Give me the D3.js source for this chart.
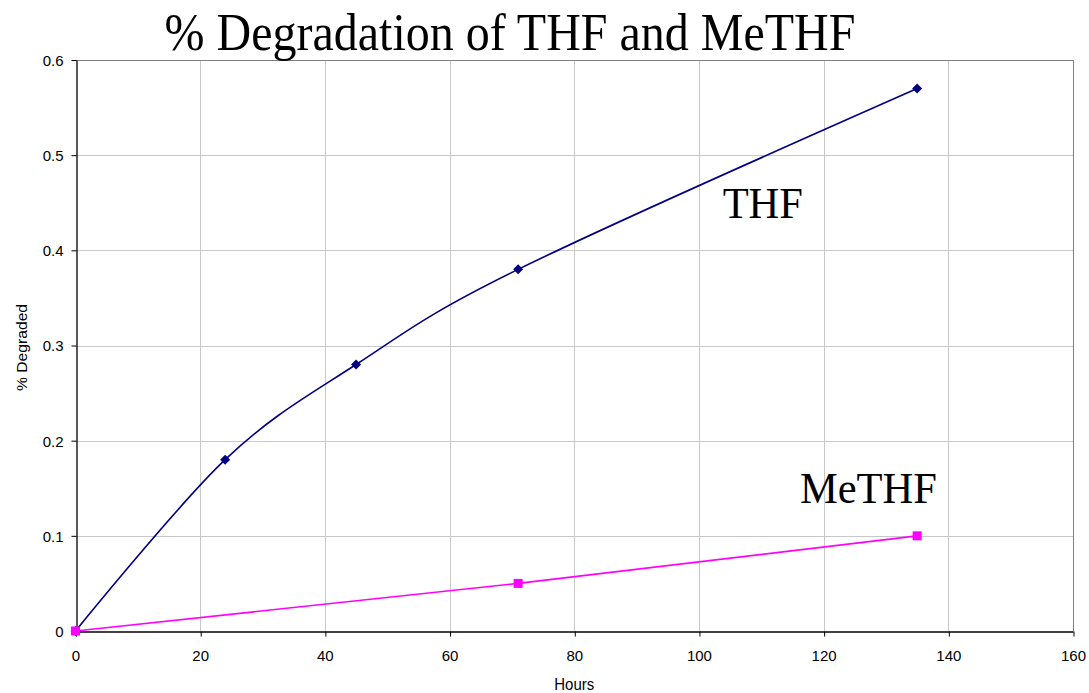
<!DOCTYPE html>
<html><head><meta charset="utf-8">
<script src="https://cdn.jsdelivr.net/npm/d3@7"></script>
<style>body{margin:0;background:#fff}svg{display:block}</style>
</head><body>
<div id="chart"></div>
<script>
const title = "% Degradation of THF and MeTHF";
const xLabel = "Hours";
const yLabel = "% Degraded";
const thfHours = [0, 24, 45, 71, 135];
const thfValues = [0, 0.18, 0.28, 0.38, 0.57];
const methfHours = [0, 71, 135];
const methfValues = [0, 0.05, 0.1];
const xTicks = [0, 20, 40, 60, 80, 100, 120, 140, 160];
const yTicks = [0, 0.1, 0.2, 0.3, 0.4, 0.5, 0.6];
const seriesNames = ["THF", "MeTHF"];

const W = 1089, H = 693;
const m = {left: 75.5, right: 16, top: 60, bottom: 62};
const svg = d3.select("#chart").append("svg").attr("width", W).attr("height", H);
const x = d3.scaleLinear().domain([0, 160]).range([m.left, W - m.right]);
const y = d3.scaleLinear().domain([0, 0.6]).range([H - m.bottom, m.top]);
const vs = 1.12; // vertical stretch of text

// grid
svg.append("g").selectAll("line").data(xTicks.slice(1)).join("line")
  .attr("x1", d => Math.round(x(d)) + 0.5).attr("x2", d => Math.round(x(d)) + 0.5)
  .attr("y1", y(0.6)).attr("y2", y(0))
  .attr("stroke", d => d === 160 ? "#808080" : "#c8c8c8").attr("stroke-width", 1);
svg.append("g").selectAll("line").data(yTicks.slice(1)).join("line")
  .attr("x1", x(0)).attr("x2", x(160))
  .attr("y1", d => Math.round(y(d)) + 0.5).attr("y2", d => Math.round(y(d)) + 0.5)
  .attr("stroke", d => d === 0.6 ? "#808080" : "#c8c8c8").attr("stroke-width", 1);

// axes
const xAxis = svg.append("g").attr("transform", `translate(0,${Math.round(y(0)) + 0.5})`)
  .call(d3.axisBottom(x).tickValues(xTicks).tickSize(5).tickSizeOuter(0).tickFormat(d3.format("d")));
const yAxis = svg.append("g").attr("transform", `translate(${Math.round(x(0)) + 0.5},0)`)
  .call(d3.axisLeft(y).tickValues(yTicks).tickSize(5).tickSizeOuter(0).tickFormat(d => d === 0 ? "0" : d3.format(".1f")(d)));
[xAxis, yAxis].forEach(a => {
  a.select(".domain").attr("stroke", "#000").attr("stroke-width", 1.3);
  a.selectAll(".tick line").attr("stroke", "#000");
  a.selectAll(".tick text").attr("font-family", "Liberation Sans, Arial, sans-serif")
    .attr("font-size", 15).attr("fill", "#000");
});
xAxis.selectAll(".tick line").attr("transform", "translate(0.5,0)");
xAxis.selectAll(".tick text").attr("dy", null).attr("y", 29);
yAxis.selectAll(".tick text").attr("x", -13).attr("dy", "0.36em");

// axis titles
svg.append("text").attr("transform", `translate(${(x(0) + x(160)) / 2},${H - 3}) scale(1,${vs})`)
  .attr("text-anchor", "middle").attr("font-family", "Liberation Sans, Arial, sans-serif")
  .attr("font-size", 15).text(xLabel);
svg.append("text").attr("transform", `translate(27,${(y(0) + y(0.6)) / 2 + 2}) rotate(-90) scale(${vs},1)`)
  .attr("text-anchor", "middle").attr("font-family", "Liberation Sans, Arial, sans-serif")
  .attr("font-size", 14).text(yLabel);

// title
svg.append("text").attr("transform", `translate(510,50) scale(1,${vs})`)
  .attr("text-anchor", "middle").attr("font-family", "Liberation Serif, Times New Roman, serif")
  .attr("font-size", 48).text(title);

// series
const thf = thfHours.map((h, i) => [h, thfValues[i]]);
const methf = methfHours.map((h, i) => [h, methfValues[i]]);
svg.append("path").datum(thf)
  .attr("d", d3.line().x(d => x(d[0])).y(d => y(d[1])).curve(d3.curveCatmullRom.alpha(0)))
  .attr("fill", "none").attr("stroke", "#000080").attr("stroke-width", 1.6);
svg.append("path").datum(methf)
  .attr("d", d3.line().x(d => x(d[0])).y(d => y(d[1])))
  .attr("fill", "none").attr("stroke", "#ff00ff").attr("stroke-width", 1.6);

svg.append("g").selectAll("path").data(thf).join("path")
  .attr("transform", d => `translate(${x(d[0])},${y(d[1])})`)
  .attr("d", "M0,-5L5,0L0,5L-5,0Z").attr("fill", "#000080");
svg.append("g").selectAll("rect").data(methf).join("rect")
  .attr("x", d => x(d[0]) - 4.5).attr("y", d => y(d[1]) - 4.5)
  .attr("width", 9).attr("height", 9).attr("fill", "#ff00ff");

// series labels
svg.append("text").attr("transform", `translate(${x(103.8)},${y(0.434)}) scale(1,1.05)`)
  .attr("font-family", "Liberation Serif, Times New Roman, serif").attr("font-size", 42.5).text(seriesNames[0]);
svg.append("text").attr("transform", `translate(${x(116.2)},${y(0.1345)}) scale(1,1.05)`)
  .attr("font-family", "Liberation Serif, Times New Roman, serif").attr("font-size", 42.5).text(seriesNames[1]);
</script>
</body></html>
